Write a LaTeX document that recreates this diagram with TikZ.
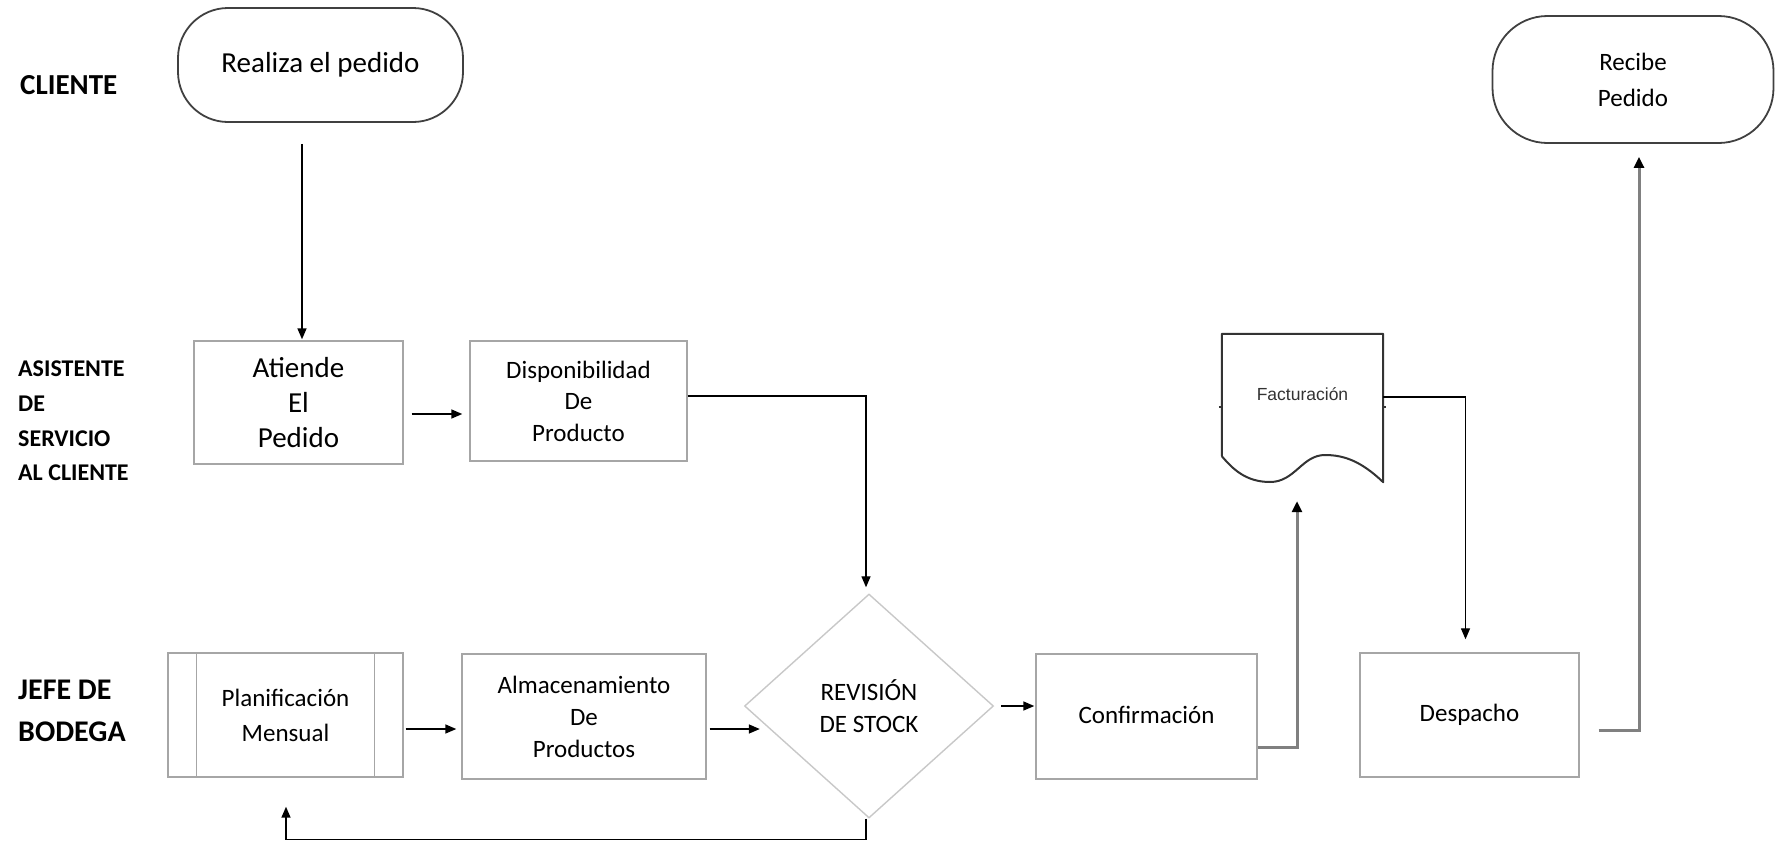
\documentclass[tikz,border=0pt]{standalone}
\usepackage{fontspec}
\setmainfont{Carlito}
\newfontfamily\arialf{Liberation Sans}
\usetikzlibrary{arrows.meta,shapes.geometric,calc}
\definecolor{boxgray}{HTML}{A6A6A6}
\definecolor{diagray}{HTML}{C8C8C8}
\definecolor{pillgray}{HTML}{404040}
\definecolor{congray}{HTML}{808080}
\begin{document}
\begin{tikzpicture}[x=1pt,y=-1pt,
  box/.style={draw=boxgray,line width=1.4pt,rectangle,inner sep=0pt,align=center,font=\fontsize{25}{32}\selectfont},
  pill/.style={draw=pillgray,line width=1.8pt,rectangle,inner sep=0pt,align=center},
  lab/.style={anchor=west,align=left,inner sep=0pt,font=\bfseries},
  arr/.style={line width=1.5pt,-{Triangle[length=11pt,width=9pt]}},
  garr/.style={line width=3pt,draw=congray,-{Triangle[length=11pt,width=10pt,color=black]}}]
\useasboundingbox (0,0) rectangle (1775,841);
% lane labels
\node[lab,font=\bfseries\fontsize{29}{34}\selectfont] (lcli) at (20,85) {CLIENTE};
\node[lab,font=\bfseries\fontsize{24}{34.7}\selectfont] (lasi) at (18,421) {ASISTENTE\\DE\\SERVICIO\\AL CLIENTE};
\node[lab,font=\bfseries\fontsize{30}{42}\selectfont] (ljef) at (18,711) {JEFE DE\\BODEGA};
% pills
\node[pill,rounded corners=50pt,minimum width=285pt,minimum height=114pt,font=\fontsize{29}{35}\selectfont] (realiza) at (320.5,65) {\raisebox{3pt}{Realiza el pedido}};
\node[pill,rounded corners=55pt,minimum width=281pt,minimum height=127pt,font=\fontsize{25}{36}\selectfont] (recibe) at (1633,79.5) {Recibe\\Pedido};
% boxes
\node[box,minimum width=209pt,minimum height=123pt,font=\fontsize{29}{35}\selectfont] (atiende) at (298.5,402.5) {Atiende\\El\\Pedido};
\node[box,minimum width=217pt,minimum height=120pt,font=\fontsize{25}{31.5}\selectfont] (disp) at (578.5,401) {Disponibilidad\\De\\Producto};
\node[box,minimum width=235pt,minimum height=124pt,font=\fontsize{25}{35}\selectfont] (plan) at (285.5,715) {Planificaci\'on\\Mensual};
\draw[boxgray,line width=1.4pt] ([xshift=29pt]plan.north west) -- ([xshift=29pt]plan.south west);
\draw[boxgray,line width=1.4pt] ([xshift=-29pt]plan.north east) -- ([xshift=-29pt]plan.south east);
\node[box,minimum width=244pt,minimum height=125pt] (alm) at (584,716.5) {Almacenamiento\\De\\Productos};
\node[draw=diagray,line width=1.4pt,diamond,aspect=1.11,inner sep=0pt,minimum width=249pt,minimum height=224pt,align=center,font=\fontsize{25}{32}\selectfont] (rev) at (869,706) {REVISI\'ON\\DE STOCK};
\node[box,minimum width=221pt,minimum height=125pt] (conf) at (1146.5,716.5) {\raisebox{4pt}{Confirmaci\'on}};
\node[box,minimum width=219pt,minimum height=124pt] (desp) at (1469.5,715) {\raisebox{2pt}{Despacho}};
% document shape
\node[inner sep=0pt,minimum width=161pt,minimum height=122pt,font=\arialf\fontsize{17.5}{20}\selectfont,text=black!80] (fact) at (1302.5,395) {\raisebox{2pt}{Facturaci\'on}};
\draw[black!80,line width=2pt,line join=round]
  (fact.south west) -- (fact.north west) -- (fact.north east) -- ($(fact.south east)+(0,26)$)
  .. controls (1362,462) and (1345,455) .. (1325,455)
  .. controls (1302,455) and (1295,482) .. (1270,482)
  .. controls (1245,482) and (1232,468) .. (fact.south west);
\draw[black!80,line width=1.5pt] ($(fact.west)+(-3,12)$) -- ($(fact.west)+(0,12)$);
\draw[black!80,line width=1.5pt] ($(fact.east)+(0,12)$) -- ($(fact.east)+(3,12)$);
% connectors
\draw[arr] ($(realiza.south -| atiende.north)+(3.5,21)$) -- ($(atiende.north)+(3.5,-1)$);
\draw[arr] ($(atiende.east)+(8,11.5)$) -- ($(disp.west)+(-7,13)$);
\draw[arr,line width=1.3pt] ($(disp.east)+(0,-5)$) -| ($(rev.north)+(-3,-6)$);
\draw[arr] ($(plan.east)+(2,14)$) -- ($(alm.west)+(-5,12.5)$);
\draw[arr] ($(alm.east)+(3,12.5)$) -- ($(rev.west)+(16,23)$);
\draw[arr] ($(rev.east)+(7,0)$) -- ($(conf.west)+(-1,-10.5)$);
\draw[garr] ($(conf.east)+(0,30.5)$) -| ($(fact.south)+(-5.5,45)$);
\draw[arr,line width=1.3pt] ($(fact.east)+(0,2)$) -| ($(desp.north)+(-4,-13)$);
\draw[garr] ($(desp.east)+(19,15)$) -| ($(recibe.south)+(6,13)$);
\draw[arr] ($(rev.south)+(-3,0)$) -- ++(0,21) -| ($(plan.south)+(0.5,29)$);
\end{tikzpicture}
\end{document}
